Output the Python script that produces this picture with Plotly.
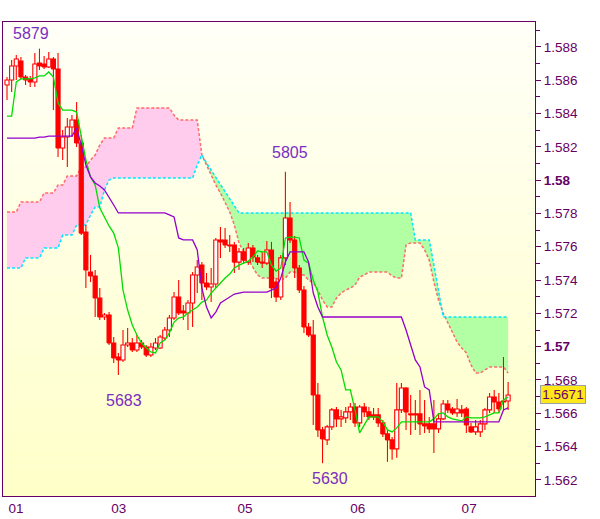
import numpy as np
import plotly.graph_objects as go

# ---------------- data ----------------
open_ = [
    1.58572, 1.58602, 1.58686, 1.58716, 1.58620, 1.58608, 1.58590, 1.58704, 1.58698, 1.58680,
    1.58728, 1.58668, 1.58193, 1.58259, 1.58319, 1.58361, 1.58223, 1.57688, 1.57448, 1.57424,
    1.57292, 1.57178, 1.57190, 1.57022, 1.56938, 1.56920, 1.57010, 1.57022, 1.56980, 1.57022,
    1.56998, 1.56950, 1.56992, 1.56992, 1.57052, 1.57100, 1.57172, 1.57298, 1.57214, 1.57202,
    1.57262, 1.57430, 1.57490, 1.57382, 1.57358, 1.57376, 1.57641, 1.57641, 1.57611, 1.57611,
    1.57508, 1.57569, 1.57508, 1.57593, 1.57533, 1.57508, 1.57502, 1.57581, 1.57388, 1.57298,
    1.57533, 1.57773, 1.57641, 1.57472, 1.57340, 1.57118, 1.57070, 1.56710, 1.56500, 1.56440,
    1.56518, 1.56620, 1.56566, 1.56572, 1.56608, 1.56638, 1.56542, 1.56638, 1.56608, 1.56590,
    1.56590, 1.56542, 1.56476, 1.56440, 1.56386, 1.56620, 1.56752, 1.56596, 1.56596, 1.56596,
    1.56536, 1.56536, 1.56536, 1.56506, 1.56566, 1.56656, 1.56626, 1.56602, 1.56620, 1.56626,
    1.56518, 1.56488, 1.56488, 1.56536, 1.56620, 1.56698, 1.56668, 1.56674, 1.56674]

close = [
    1.58602, 1.58686, 1.58728, 1.58620, 1.58602, 1.58590, 1.58698, 1.58686, 1.58680, 1.58728,
    1.58668, 1.58193, 1.58259, 1.58319, 1.58361, 1.58223, 1.57682, 1.57460, 1.57424, 1.57292,
    1.57178, 1.57190, 1.57022, 1.56932, 1.56920, 1.57010, 1.57022, 1.56980, 1.57022, 1.56998,
    1.56950, 1.56998, 1.57022, 1.57058, 1.57100, 1.57172, 1.57298, 1.57202, 1.57202, 1.57262,
    1.57430, 1.57478, 1.57382, 1.57358, 1.57376, 1.57641, 1.57629, 1.57611, 1.57605, 1.57508,
    1.57569, 1.57520, 1.57593, 1.57539, 1.57508, 1.57502, 1.57581, 1.57352, 1.57298, 1.57533,
    1.57773, 1.57641, 1.57472, 1.57340, 1.57118, 1.57070, 1.56710, 1.56500, 1.56446, 1.56518,
    1.56620, 1.56566, 1.56578, 1.56608, 1.56638, 1.56542, 1.56638, 1.56608, 1.56578, 1.56578,
    1.56542, 1.56476, 1.56440, 1.56386, 1.56620, 1.56752, 1.56608, 1.56590, 1.56590, 1.56536,
    1.56524, 1.56506, 1.56506, 1.56566, 1.56656, 1.56620, 1.56602, 1.56626, 1.56602, 1.56530,
    1.56488, 1.56518, 1.56536, 1.56620, 1.56698, 1.56668, 1.56626, 1.56668, 1.56710]

high = [
    1.58620, 1.58722, 1.58752, 1.58740, 1.58632, 1.58626, 1.58764, 1.58790, 1.58746, 1.58770,
    1.58740, 1.58764, 1.58301, 1.58373, 1.58391, 1.58469, 1.58271, 1.57731, 1.57551, 1.57460,
    1.57352, 1.57202, 1.57208, 1.57058, 1.56962, 1.57100, 1.57112, 1.57052, 1.57070, 1.57040,
    1.57010, 1.57022, 1.57052, 1.57070, 1.57118, 1.57190, 1.57328, 1.57400, 1.57250, 1.57280,
    1.57448, 1.57520, 1.57508, 1.57442, 1.57472, 1.57653, 1.57719, 1.57713, 1.57670, 1.57629,
    1.57593, 1.57593, 1.57623, 1.57611, 1.57551, 1.57569, 1.57635, 1.57629, 1.57412, 1.57551,
    1.58050, 1.57869, 1.57664, 1.57490, 1.57364, 1.57142, 1.57160, 1.56782, 1.56518, 1.56530,
    1.56632, 1.56638, 1.56620, 1.56638, 1.56662, 1.56662, 1.56650, 1.56662, 1.56638, 1.56632,
    1.56632, 1.56560, 1.56500, 1.56458, 1.56782, 1.56782, 1.56758, 1.56710, 1.56680, 1.56740,
    1.56680, 1.56578, 1.56680, 1.56602, 1.56680, 1.56680, 1.56638, 1.56686, 1.56650, 1.56638,
    1.56542, 1.56560, 1.56560, 1.56632, 1.56722, 1.56740, 1.56722, 1.56938, 1.56788]

low = [
    1.58481, 1.58529, 1.58602, 1.58608, 1.58572, 1.58559, 1.58559, 1.58662, 1.58668, 1.58674,
    1.58421, 1.58139, 1.58121, 1.58079, 1.58259, 1.58199, 1.57670, 1.57352, 1.57388, 1.57178,
    1.57160, 1.57160, 1.57010, 1.56902, 1.56830, 1.56908, 1.56998, 1.56968, 1.56968, 1.56986,
    1.56938, 1.56938, 1.56980, 1.56986, 1.57040, 1.57058, 1.57160, 1.57190, 1.57160, 1.57100,
    1.57118, 1.57322, 1.57280, 1.57340, 1.57268, 1.57352, 1.57533, 1.57593, 1.57569, 1.57442,
    1.57460, 1.57502, 1.57490, 1.57508, 1.57490, 1.57472, 1.57490, 1.57292, 1.57268, 1.57280,
    1.57490, 1.57623, 1.57412, 1.57322, 1.57082, 1.57058, 1.56530, 1.56458, 1.56300, 1.56410,
    1.56500, 1.56518, 1.56518, 1.56542, 1.56560, 1.56518, 1.56518, 1.56578, 1.56560, 1.56560,
    1.56518, 1.56458, 1.56308, 1.56320, 1.56332, 1.56602, 1.56500, 1.56470, 1.56500, 1.56470,
    1.56482, 1.56482, 1.56362, 1.56482, 1.56560, 1.56602, 1.56590, 1.56578, 1.56578, 1.56482,
    1.56482, 1.56470, 1.56458, 1.56500, 1.56602, 1.56602, 1.56602, 1.56620, 1.56620]

tenkan = [
    1.58385, 1.58385, 1.58590, 1.58608, 1.58608, 1.58608, 1.58614, 1.58626, 1.58626, 1.58650,
    1.58620, 1.58464, 1.58421, 1.58421, 1.58421, 1.58409, 1.58253, 1.58121, 1.58019, 1.57971,
    1.57833, 1.57779, 1.57725, 1.57682, 1.57593, 1.57340, 1.57220, 1.57130, 1.57070, 1.57022,
    1.56992, 1.56968, 1.56962, 1.57022, 1.57040, 1.57082, 1.57148, 1.57172, 1.57178, 1.57202,
    1.57220, 1.57238, 1.57268, 1.57280, 1.57322, 1.57352, 1.57388, 1.57412, 1.57436, 1.57472,
    1.57490, 1.57502, 1.57514, 1.57539, 1.57575, 1.57569, 1.57569, 1.57490, 1.57454, 1.57472,
    1.57653, 1.57658, 1.57658, 1.57653, 1.57520, 1.57502, 1.57400, 1.57328, 1.57178, 1.57070,
    1.56998, 1.56908, 1.56860, 1.56740, 1.56740, 1.56620, 1.56482, 1.56530, 1.56578, 1.56578,
    1.56578, 1.56548, 1.56500, 1.56488, 1.56512, 1.56548, 1.56548, 1.56548, 1.56548, 1.56548,
    1.56548, 1.56548, 1.56566, 1.56596, 1.56602, 1.56578, 1.56566, 1.56560, 1.56554, 1.56578,
    1.56572, 1.56572, 1.56572, 1.56578, 1.56590, 1.56602, 1.56602, 1.56680, 1.56698]

kijun = [
    1.58253, 1.58253, 1.58253, 1.58253, 1.58253, 1.58253, 1.58253, 1.58259, 1.58259, 1.58265,
    1.58265, 1.58265, 1.58265, 1.58265, 1.58265, 1.58313, 1.58211, 1.58091, 1.58019, 1.57983,
    1.57965, 1.57941, 1.57899, 1.57851, 1.57803, 1.57803, 1.57803, 1.57803, 1.57803, 1.57803,
    1.57803, 1.57803, 1.57803, 1.57803, 1.57803, 1.57791, 1.57779, 1.57653, 1.57641, 1.57641,
    1.57641, 1.57581, 1.57352, 1.57238, 1.57172, 1.57208, 1.57262, 1.57280, 1.57298, 1.57316,
    1.57322, 1.57328, 1.57328, 1.57328, 1.57328, 1.57328, 1.57328, 1.57340, 1.57352, 1.57412,
    1.57508, 1.57569, 1.57569, 1.57569, 1.57569, 1.57508, 1.57322, 1.57238, 1.57178, 1.57178,
    1.57178, 1.57178, 1.57178, 1.57178, 1.57178, 1.57178, 1.57178, 1.57178, 1.57178, 1.57178,
    1.57178, 1.57178, 1.57178, 1.57178, 1.57178, 1.57178, 1.57100, 1.57010, 1.56920, 1.56878,
    1.56758, 1.56740, 1.56548, 1.56548, 1.56548, 1.56548, 1.56548, 1.56548, 1.56548, 1.56548,
    1.56548, 1.56548, 1.56548, 1.56548, 1.56548, 1.56548, 1.56548, 1.56620, 1.56632]

span_a = [
    1.57809, 1.57809, 1.57809, 1.57869, 1.57869, 1.57869, 1.57869, 1.57869, 1.57923, 1.57923,
    1.57923, 1.57971, 1.57971, 1.58025, 1.58025, 1.58025, 1.58079, 1.58079, 1.58121, 1.58151,
    1.58211, 1.58253, 1.58253, 1.58253, 1.58313, 1.58313, 1.58313, 1.58313, 1.58433, 1.58433,
    1.58433, 1.58433, 1.58433, 1.58433, 1.58433, 1.58433, 1.58391, 1.58361, 1.58361, 1.58361,
    1.58361, 1.58361, 1.58151, 1.58091, 1.58025, 1.57971, 1.57923, 1.57863, 1.57809, 1.57731,
    1.57623, 1.57569, 1.57520, 1.57478, 1.57430, 1.57412, 1.57412, 1.57412, 1.57412, 1.57400,
    1.57412, 1.57448, 1.57448, 1.57430, 1.57430, 1.57400, 1.57382, 1.57340, 1.57280, 1.57238,
    1.57238, 1.57292, 1.57322, 1.57340, 1.57352, 1.57370, 1.57418, 1.57430, 1.57448, 1.57448,
    1.57448, 1.57448, 1.57448, 1.57424, 1.57412, 1.57412, 1.57611, 1.57623, 1.57623, 1.57623,
    1.57581, 1.57520, 1.57388, 1.57280, 1.57202, 1.57142, 1.57082, 1.57028, 1.56992, 1.56962,
    1.56890, 1.56842, 1.56842, 1.56860, 1.56878, 1.56878, 1.56878, 1.56878, 1.56842]

span_b = [
    1.57472, 1.57472, 1.57472, 1.57472, 1.57533, 1.57533, 1.57533, 1.57533, 1.57593, 1.57593,
    1.57593, 1.57593, 1.57670, 1.57670, 1.57670, 1.57731, 1.57731, 1.57731, 1.57791, 1.57839,
    1.57839, 1.57941, 1.58001, 1.58013, 1.58013, 1.58013, 1.58013, 1.58013, 1.58013, 1.58013,
    1.58013, 1.58013, 1.58013, 1.58013, 1.58013, 1.58013, 1.58013, 1.58013, 1.58013, 1.58013,
    1.58013, 1.58091, 1.58151, 1.58103, 1.58061, 1.58019, 1.57977, 1.57935, 1.57893, 1.57851,
    1.57803, 1.57803, 1.57803, 1.57803, 1.57803, 1.57803, 1.57803, 1.57803, 1.57803, 1.57803,
    1.57803, 1.57803, 1.57803, 1.57803, 1.57803, 1.57803, 1.57803, 1.57803, 1.57803, 1.57803,
    1.57803, 1.57803, 1.57803, 1.57803, 1.57803, 1.57803, 1.57803, 1.57803, 1.57803, 1.57803,
    1.57803, 1.57803, 1.57803, 1.57803, 1.57803, 1.57803, 1.57803, 1.57803, 1.57641, 1.57641,
    1.57641, 1.57641, 1.57490, 1.57340, 1.57178, 1.57178, 1.57178, 1.57178, 1.57178, 1.57178,
    1.57178, 1.57178, 1.57178, 1.57178, 1.57178, 1.57178, 1.57178, 1.57178, 1.57178]

tick_labels = ["01", "03", "05", "06", "07"]
tick_pos = [1.94, 24.1, 51.3, 75.6, 99.6]

price_ticks = [1.562, 1.564, 1.566, 1.568, 1.570, 1.572, 1.574, 1.576,
               1.578, 1.580, 1.582, 1.584, 1.586, 1.588]
bold_ticks = [1.570, 1.580]

swing_labels = ["5879", "5683", "5805", "5630"]
swing_idx = [7, 24, 60, 68]
swing_kind = ["high", "low", "high", "low"]

# ---------------- styling ----------------
PURPLE = "#660066"
LABEL_PURPLE = "#7A2EC0"
RED = "#FF0000"
FONT = "Liberation Sans, Arial, sans-serif"
BODY_HALF = 0.44

n = len(close)
idx = np.arange(n)

fig = go.Figure()

# ---- cloud fill (with crossing points inserted) ----
A = np.array(span_a)
B = np.array(span_b)
xs, a_d, b_d = [], [], []
for i in range(n):
    xs.append(float(i)); a_d.append(A[i]); b_d.append(B[i])
    if i < n - 1:
        d0 = A[i] - B[i]
        d1 = A[i + 1] - B[i + 1]
        if d0 * d1 < 0:
            t = d0 / (d0 - d1)
            v = A[i] + t * (A[i + 1] - A[i])
            xs.append(i + t); a_d.append(v); b_d.append(v)
hi = np.maximum(a_d, b_d)

common = dict(mode="lines", hoverinfo="skip", showlegend=False)
fig.add_trace(go.Scatter(x=xs, y=b_d, line=dict(width=0), **common))
fig.add_trace(go.Scatter(x=xs, y=hi, fill="tonexty", fillcolor="#FFCCEE",
                         line=dict(width=0), **common))
fig.add_trace(go.Scatter(x=xs, y=a_d, line=dict(width=0), **common))
fig.add_trace(go.Scatter(x=xs, y=hi, fill="tonexty", fillcolor="#B2FFA4",
                         line=dict(width=0), **common))

# cloud edges
fig.add_trace(go.Scatter(x=idx, y=span_a, line=dict(color="#FF6A6A", width=1.5, dash="3px,2px"), **common))
fig.add_trace(go.Scatter(x=idx, y=span_b, line=dict(color="#00E8FF", width=1.5, dash="3px,2px"), **common))

# ---- candles ----
wx, wy = [], []
hx, hy = [], []
fx, fy = [], []
for i in range(n):
    o, c, h, l = open_[i], close[i], high[i], low[i]
    top, bot = max(o, c), min(o, c)
    wx += [i, i, None, i, i, None]
    wy += [h, top, None, bot, l, None]
    rx = [i - BODY_HALF, i + BODY_HALF, i + BODY_HALF, i - BODY_HALF, i - BODY_HALF, None]
    ry = [bot, bot, top, top, bot, None]
    if c >= o:
        hx += rx; hy += ry
    else:
        fx += rx; fy += ry

fig.add_trace(go.Scatter(x=wx, y=wy, line=dict(color=RED, width=1.1), **common))
fig.add_trace(go.Scatter(x=hx, y=hy, fill="toself", fillcolor="#FFFFFF",
                         line=dict(color=RED, width=1.1), **common))
fig.add_trace(go.Scatter(x=fx, y=fy, fill="toself", fillcolor=RED,
                         line=dict(color=RED, width=1.1), **common))

# ---- tenkan / kijun ----
fig.add_trace(go.Scatter(x=idx, y=tenkan, line=dict(color="#00DD00", width=1.3), **common))
fig.add_trace(go.Scatter(x=idx, y=kijun, line=dict(color="#9400CC", width=1.3), **common))

# ---- background gradient ----
shapes = []
nb = 60
top_c = np.array([255, 255, 248])
bot_c = np.array([255, 255, 200])
for k in range(nb):
    f = (k + 0.5) / nb
    col = bot_c + (top_c - bot_c) * f
    shapes.append(dict(type="rect", xref="paper", yref="paper",
                       x0=0, x1=1, y0=k / nb, y1=(k + 1) / nb,
                       fillcolor="rgb(%d,%d,%d)" % tuple(col.round().astype(int)),
                       line=dict(width=0), layer="below"))

# ---- annotations ----
annotations = []
shift = {"5879": (-8.5, 15.6), "5683": (5.6, -26), "5805": (4.6, 19), "5630": (7.5, -15)}
for lab, i, kind in zip(swing_labels, swing_idx, swing_kind):
    yv = high[i] if kind == "high" else low[i]
    xs_, ys_ = shift[lab]
    annotations.append(dict(x=i, y=yv, text=lab, showarrow=False, xshift=xs_, yshift=ys_,
                            font=dict(family=FONT, size=16, color=LABEL_PURPLE)))

annotations.append(dict(x=1, xref="paper", y=close[-1], yref="y", text="%.4f" % close[-1],
                        showarrow=False, xanchor="left", xshift=5,
                        bgcolor="#FFE81A", bordercolor="#9AA0A8", borderwidth=1, borderpad=0,
                        width=44, height=17,
                        font=dict(family=FONT, size=13.5, color=PURPLE)))

ticktext = [("<b>%g</b>" % v) if v in bold_ticks else ("%.3f" % v) for v in price_ticks]
minor_vals = [round(v + 0.001, 3) for v in price_ticks] + [1.561]

fig.update_layout(
    width=600, height=519,
    margin=dict(l=3, r=65, t=22, b=23),
    paper_bgcolor="white", plot_bgcolor="#FFFFE0",
    shapes=shapes, annotations=annotations,
    showlegend=False,
    xaxis=dict(range=[-0.862, 113.793], showgrid=False, zeroline=False,
               showline=True, mirror=True, linecolor=PURPLE, linewidth=1,
               tickvals=tick_pos, ticktext=tick_labels, ticks="",
               tickfont=dict(family=FONT, size=13.5, color=PURPLE)),
    yaxis=dict(range=[1.56103, 1.58950], side="right", showgrid=False, zeroline=False,
               showline=True, mirror=True, linecolor=PURPLE, linewidth=1,
               tickvals=price_ticks, ticktext=ticktext,
               ticks="outside", ticklen=5, tickcolor=PURPLE,
               minor=dict(tickvals=minor_vals, ticks="outside", ticklen=4, tickcolor=PURPLE),
               tickfont=dict(family=FONT, size=13.5, color=PURPLE)),
)

fig.write_html("out.html", config={"displayModeBar": False},
               post_script="document.body.style.margin='0';document.body.style.padding='0';")
